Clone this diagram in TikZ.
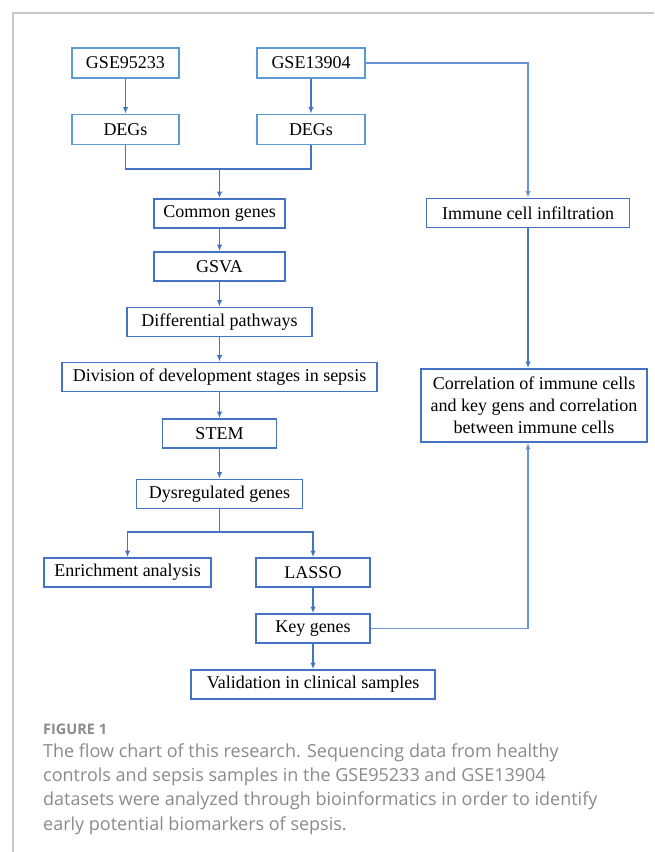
\documentclass[tikz,border=0pt]{standalone}
\usepackage{fontspec}
\setmainfont{Liberation Serif}
\newfontfamily\capfont{Open Sans}
\usetikzlibrary{arrows.meta}

\definecolor{boxblue}{HTML}{4472C4}
\definecolor{lightblue}{HTML}{5B9BD5}
\definecolor{linkblue}{HTML}{6A93DA}
\definecolor{framegray}{HTML}{C8C8C8}
\definecolor{capgray}{HTML}{8A8A8A}

\begin{document}
\begin{tikzpicture}[x=1pt, y=-1pt,
    box/.style={draw=boxblue, line width=1.9pt, inner sep=0pt, minimum height=29pt,
        font=\fontsize{18}{22}\selectfont},
    srcbox/.style={box, draw=lightblue, minimum height=30pt},
    link/.style={draw=boxblue, line width=1.5pt},
    arr/.style={link, -{Latex[length=6.5pt,width=5.5pt]}}]
    \useasboundingbox (0,0) rectangle (654,852);
    \draw[framegray, line width=1.2pt] (13,852) -- (13,13) -- (654,13);

    % left column
    \node[srcbox, minimum width=107pt] (gse1) at (125.5,63) {GSE95233};
    \node[srcbox, minimum width=108pt] (gse2) at (311,63) {GSE13904};
    \node[srcbox, minimum width=107pt] (deg1) at (125.5,129.5) {DEGs};
    \node[srcbox, minimum width=108pt] (deg2) at (311,129.5) {DEGs};

    \node[box, minimum width=131pt] (common) at (219.5,213.5) {Common genes};
    \node[box, minimum width=131pt] (gsva) at (219.5,266.5) {GSVA};
    \node[box, minimum width=185pt] (diffpath) at (219.5,322) {Differential pathways};
    \node[box, minimum width=315pt] (division) at (219.5,377) {Division of development stages in sepsis};
    \node[box, minimum width=114pt] (stem) at (219.5,433.5) {STEM};
    \node[box, minimum width=166pt] (dysreg) at (219.5,494) {Dysregulated genes};

    \node[box, minimum width=167pt] (enrich) at (127.5,572.5) {Enrichment analysis};
    \node[box, minimum width=114pt] (lasso) at (313,572.5) {LASSO};
    \node[box, minimum width=114pt] (keygenes) at (313,628.5) {Key genes};
    \node[box, minimum width=244pt] (valid) at (313,684.5) {Validation in clinical samples};

    % right column
    \node[box, minimum width=203pt] (immune) at (528,213) {Immune cell infiltration};
    \node[box, minimum width=226pt, minimum height=73pt, align=center] (corr) at (534,405.5)
        {Correlation of immune cells\\and key gens and correlation\\between immune cells};

    \coordinate (merge) at (219.5,169);
    \coordinate (split) at (219.5,532);

    \draw[arr] (gse1) -- (deg1);
    \draw[arr] (gse2) -- (deg2);
    \draw[link] (deg1) |- (merge) -| (deg2);
    \draw[arr] (merge) -- (common);
    \draw[arr] (common) -- (gsva);
    \draw[arr] (gsva) -- (diffpath);
    \draw[arr] (diffpath) -- (division);
    \draw[arr] (division) -- (stem);
    \draw[arr] (stem) -- (dysreg);
    \draw[link] (dysreg) -- (split);
    \draw[arr] (split) -| (enrich);
    \draw[arr] (split) -| (lasso);
    \draw[arr] (lasso) -- (keygenes);
    \draw[arr] (keygenes) -- (valid);

    \draw[arr, draw=linkblue] (gse2) -| (immune);
    \draw[arr] (immune) -- (immune |- corr.north);
    \draw[arr, draw=linkblue] (keygenes) -| (immune |- corr.south);

    % caption
    \node[anchor=base west, inner sep=0pt, text=capgray, font=\capfont\bfseries\fontsize{14.5}{18}\selectfont]
        (figlabel) at (43,734) {FIGURE 1};
    \node[anchor=base west, inner sep=0pt, text=capgray, align=left,
        font=\capfont\fontsize{18}{24.4}\selectfont] (caption) at (43,830.2)
        {The flow chart of this research. Sequencing data from healthy\\
         controls and sepsis samples in the GSE95233 and GSE13904\\
         datasets were analyzed through bioinformatics in order to identify\\
         early potential biomarkers of sepsis.};
\end{tikzpicture}
\end{document}
